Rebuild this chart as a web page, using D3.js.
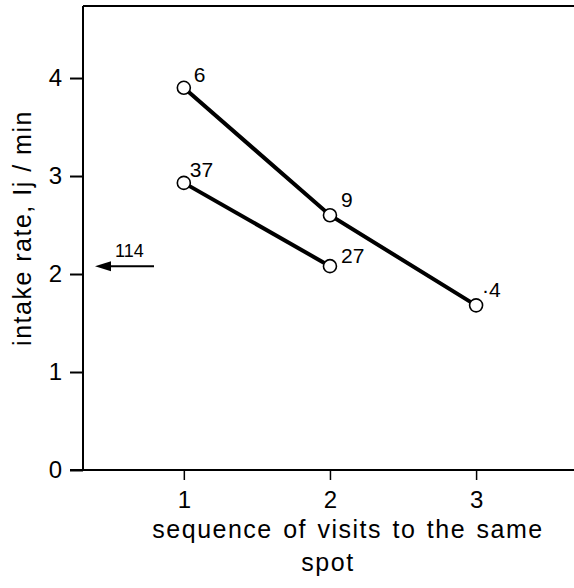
<!DOCTYPE html>
<html><head><meta charset="utf-8">
<script src="https://cdn.jsdelivr.net/npm/d3@7"></script>
<style>body{margin:0;background:#fff}svg{display:block}text{font-family:"Liberation Sans",Arial,Helvetica,sans-serif;fill:#000}</style>
</head><body>
<script>
const visits = [1, 2, 3];
const seriesA = [3.9, 2.6, 1.68];
const labelsA = ["6", "9", "·4"];
const visitsB = [1, 2];
const seriesB = [2.93, 2.08];
const labelsB = ["37", "27"];
const arrowValue = 2.08;
const arrowLabel = "114";
const yTicks = [0, 1, 2, 3, 4];
const xTicks = [1, 2, 3];

const W = 574, H = 588;
const svg = d3.select("body").append("svg").attr("width", W).attr("height", H);
const x = d3.scaleLinear().domain([0.31, 3.67]).range([83, 574]);
const y = d3.scaleLinear().domain([0, 4.735]).range([470, 6]);

// top frame line
svg.append("line").attr("x1", 83).attr("x2", 574).attr("y1", y(4.735)).attr("y2", y(4.735)).attr("stroke", "#000").attr("stroke-width", 2);

const yAxis = svg.append("g").attr("transform", "translate(83,0)")
  .call(d3.axisLeft(y).tickValues(yTicks).tickSize(13).tickPadding(8).tickFormat(d3.format("d")));
yAxis.select(".domain").attr("stroke-width", 2).attr("d", `M0,${y(4.735)}V470`);
yAxis.selectAll(".tick line").attr("stroke-width", 2);
yAxis.selectAll(".tick text").attr("font-size", 24).attr("font-family", "Liberation Sans, Arial, sans-serif");

const xAxis = svg.append("g").attr("transform", "translate(0,470)")
  .call(d3.axisBottom(x).tickValues(xTicks).tickSize(10).tickPadding(11).tickFormat(d3.format("d")));
xAxis.select(".domain").attr("stroke-width", 2).attr("d", `M${x.range()[0] - 13},0H574`);
xAxis.selectAll(".tick line").attr("stroke-width", 1.5);
xAxis.selectAll(".tick text").attr("font-size", 24).attr("font-family", "Liberation Sans, Arial, sans-serif");

const line = d3.line().x(d => x(d[0])).y(d => y(d[1]));
const dataA = visits.map((v, i) => [v, seriesA[i], labelsA[i]]);
const dataB = visitsB.map((v, i) => [v, seriesB[i], labelsB[i]]);
const offA = [[10, -6], [11, -8], [6, -8]];
const offB = [[6, -6], [11, -3]];

[[dataA, offA], [dataB, offB]].forEach(([data, off]) => {
  svg.append("path").datum(data).attr("d", line).attr("fill", "none").attr("stroke", "#000").attr("stroke-width", 4);
  svg.selectAll(null).data(data).enter().append("circle")
    .attr("cx", d => x(d[0])).attr("cy", d => y(d[1])).attr("r", 6.5)
    .attr("fill", "#fff").attr("stroke", "#000").attr("stroke-width", 1.6);
  svg.selectAll(null).data(data).enter().append("text")
    .attr("x", (d, i) => x(d[0]) + off[i][0]).attr("y", (d, i) => y(d[1]) + off[i][1])
    .attr("font-size", 21).text(d => d[2]);
});

// arrow
const ay = y(arrowValue);
svg.append("line").attr("x1", 154).attr("x2", 106).attr("y1", ay).attr("y2", ay).attr("stroke", "#000").attr("stroke-width", 2);
svg.append("path").attr("d", `M95,${ay}L111,${ay - 5}L111,${ay + 5}Z`).attr("fill", "#000");
svg.append("text").attr("x", 115).attr("y", ay - 9).attr("font-size", 18).text(arrowLabel);

// axis titles
svg.append("text").attr("transform", `translate(31,228) rotate(-90)`)
  .attr("text-anchor", "middle").attr("font-size", 25).attr("letter-spacing", 1.5).text("intake rate, Ij / min");
svg.append("text").attr("x", 348).attr("y", 538).attr("text-anchor", "middle").attr("font-size", 25)
  .attr("letter-spacing", 1.5).attr("word-spacing", 2).text("sequence of visits to the same");
svg.append("text").attr("x", 328).attr("y", 571).attr("text-anchor", "middle").attr("font-size", 25).attr("letter-spacing", 1.5).text("spot");
</script>
</body></html>
